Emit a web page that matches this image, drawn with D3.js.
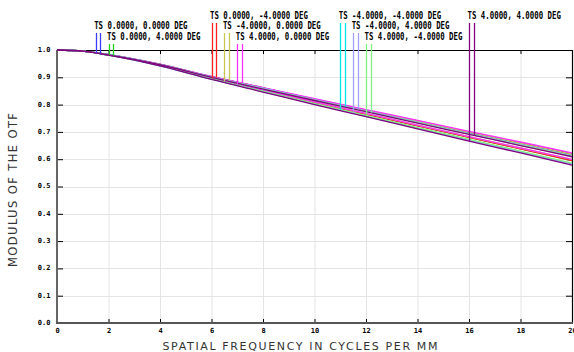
<!DOCTYPE html>
<html><head><meta charset="utf-8">
<script src="https://cdn.jsdelivr.net/npm/d3@7"></script>
<style>
html,body{margin:0;padding:0;background:#fff;}
svg{display:block;}
</style></head>
<body>
<svg id="chart" width="574" height="352"></svg>
<script>
// ---- data ----
const freqs = [0, 1, 2, 4, 6, 8, 10, 12, 14, 16, 18, 20];
const f1T = [1, .996, .983, .947, .902, .861, .820, .780, .740, .699, .660, .620];
const f1S = [1, .996, .983, .947, .902, .861, .820, .780, .740, .699, .660, .620];
const f2T = [1, .996, .982, .944, .896, .852, .808, .765, .722, .680, .638, .595];
const f2S = [1, .996, .983, .947, .901, .860, .818, .778, .737, .696, .657, .616];
const f3T = [1, .996, .982, .944, .896, .852, .808, .765, .722, .680, .638, .595];
const f3S = [1, .996, .983, .947, .902, .861, .819, .779, .738, .698, .658, .618];
const f4T = [1, .996, .982, .944, .897, .853, .810, .768, .725, .683, .641, .599];
const f4S = [1, .996, .983, .947, .902, .861, .820, .779, .739, .699, .659, .619];
const f5T = [1, .996, .982, .944, .897, .853, .810, .768, .725, .683, .641, .599];
const f5S = [1, .996, .983, .948, .903, .862, .822, .782, .742, .702, .663, .623];
const f6T = [1, .996, .981, .942, .893, .848, .803, .758, .714, .670, .627, .583];
const f6S = [1, .996, .983, .946, .901, .859, .817, .776, .735, .694, .654, .613];
const f7T = [1, .996, .981, .942, .893, .848, .803, .758, .714, .670, .627, .583];
const f7S = [1, .996, .983, .946, .901, .859, .817, .776, .735, .694, .654, .613];
const f8T = [1, .996, .981, .943, .894, .849, .804, .760, .716, .673, .630, .586];
const f8S = [1, .996, .982, .946, .900, .858, .816, .775, .734, .692, .652, .611];
const f9T = [1, .996, .981, .942, .892, .846, .800, .756, .711, .666, .623, .578];
const f9S = [1, .996, .982, .946, .900, .857, .815, .774, .732, .691, .650, .609];

const fieldLabels = [
  "TS 0.0000, 0.0000 DEG", "TS 0.0000, 4.0000 DEG", "TS 0.0000, -4.0000 DEG",
  "TS -4.0000, 0.0000 DEG", "TS 4.0000, 0.0000 DEG", "TS -4.0000, -4.0000 DEG",
  "TS -4.0000, 4.0000 DEG", "TS 4.0000, -4.0000 DEG", "TS 4.0000, 4.0000 DEG"
];
const fieldColors = ["#3c3cff", "#1ed21e", "#ff2020", "#c8c850", "#ff30ff",
                     "#00e6e6", "#a0a0ff", "#82f082", "#800080"];
const legendFreqs = [1.5, 2.0, 6.0, 6.5, 7.0, 11.0, 11.5, 12.0, 16.0];
const tangential = [f1T, f2T, f3T, f4T, f5T, f6T, f7T, f8T, f9T];
const sagittal = [f1S, f2S, f3S, f4S, f5S, f6S, f7S, f8S, f9S];

const xTicks = [0, 2, 4, 6, 8, 10, 12, 14, 16, 18, 20];
const yTicks = [0, 0.1, 0.2, 0.3, 0.4, 0.5, 0.6, 0.7, 0.8, 0.9, 1.0];
const xTitle = "SPATIAL FREQUENCY IN CYCLES PER MM";
const yTitle = "MODULUS OF THE OTF";

// ---- layout ----
const L = 57, R = 572, T = 50, B = 323;
const svg = d3.select("#chart");
const x = d3.scaleLinear().domain([0, 20]).range([L, R]);
const y = d3.scaleLinear().domain([0, 1]).range([B, T]);

// grid
const grid = svg.append("g");
grid.selectAll("line.v").data(xTicks.slice(1, -1)).join("line")
  .attr("x1", d => x(d) + 0.5).attr("x2", d => x(d) + 0.5)
  .attr("y1", T).attr("y2", B).attr("stroke", "#e4e4e4").attr("stroke-width", 1);
grid.selectAll("line.h").data(yTicks.slice(1, -1)).join("line")
  .attr("y1", d => Math.round(y(d)) + 0.5).attr("y2", d => Math.round(y(d)) + 0.5)
  .attr("x1", L).attr("x2", R).attr("stroke", "#e4e4e4").attr("stroke-width", 1);

// frame top/right
svg.append("line").attr("x1", L).attr("x2", R + 1).attr("y1", T + 0.5).attr("y2", T + 0.5)
  .attr("stroke", "#000").attr("stroke-width", 1.2);
svg.append("line").attr("x1", R + 0.5).attr("x2", R + 0.5).attr("y1", T).attr("y2", B)
  .attr("stroke", "#000").attr("stroke-width", 1.2);

// ticks on top / right (inward)
svg.append("g").attr("transform", `translate(0,${T})`)
  .call(d3.axisTop(x).tickValues(xTicks).tickSize(-4).tickFormat(""))
  .call(g => { g.select(".domain").remove(); g.selectAll("line").attr("stroke", "#000"); });
svg.append("g").attr("transform", `translate(${R},0)`)
  .call(d3.axisRight(y).tickValues(yTicks).tickSize(-6).tickFormat(""))
  .call(g => { g.select(".domain").remove(); g.selectAll("line").attr("stroke", "#000"); });

// left axis
svg.append("g").attr("transform", `translate(${L},0)`)
  .call(d3.axisLeft(y).tickValues(yTicks).tickSize(-6).tickPadding(6.5).tickFormat(d3.format(".1f")))
  .call(g => {
    g.select(".domain").remove();
    g.selectAll("line").attr("stroke", "#000");
    g.selectAll("text").attr("font-family", "DejaVu Sans Mono").attr("font-weight", "bold")
      .attr("font-size", 7).attr("fill", "#000").attr("dy", "0.2em");
  });
// bottom axis
svg.append("g").attr("transform", `translate(0,${B})`)
  .call(d3.axisBottom(x).tickValues(xTicks).tickSize(-4).tickPadding(5.5).tickFormat(d3.format("d")))
  .call(g => {
    g.select(".domain").remove();
    g.selectAll("line").attr("stroke", "#000");
    g.selectAll("text").attr("font-family", "DejaVu Sans Mono").attr("font-weight", "bold")
      .attr("font-size", 7).attr("fill", "#000");
  });
svg.append("line").attr("x1", L).attr("x2", L).attr("y1", T).attr("y2", B + 1)
  .attr("stroke", "#666").attr("stroke-width", 2);
svg.append("line").attr("x1", L - 1).attr("x2", R + 1).attr("y1", B).attr("y2", B)
  .attr("stroke", "#555").attr("stroke-width", 2);

// curves
const line = d3.line().x((d, i) => x(freqs[i])).y(d => y(d)).curve(d3.curveMonotoneX);
const curves = svg.append("g").attr("fill", "none").attr("stroke-width", 1.3);
fieldColors.forEach((c, i) => {
  curves.append("path").attr("d", line(tangential[i])).attr("stroke", c);
  curves.append("path").attr("d", line(sagittal[i])).attr("stroke", c);
});

// legend
const rowBase = [19, 29, 40];
const leg = svg.append("g");
fieldLabels.forEach((lab, i) => {
  const row = (i + 1) % 3;
  const f = legendFreqs[i];
  const fx = [f, f + 0.18];
  const yT = d3.scaleLinear().domain(freqs).range(tangential[i]);
  const yS = d3.scaleLinear().domain(freqs).range(sagittal[i]);
  const ends = [yT(fx[0]), yS(fx[1])];
  fx.forEach((ff, k) => {
    leg.append("line")
      .attr("x1", Math.round(x(ff)) + 0.5).attr("x2", Math.round(x(ff)) + 0.5)
      .attr("y1", rowBase[row] + 4).attr("y2", y(ends[k]))
      .attr("stroke", fieldColors[i]).attr("stroke-width", 1.3);
  });
  leg.append("text").attr("x", x(f) - 1.5).attr("y", rowBase[row])
    .attr("font-family", "DejaVu Sans Mono").attr("font-weight", "bold")
    .attr("font-size", 10).attr("fill", "#000")
    .attr("textLength", lab.length * 4.45).attr("lengthAdjust", "spacingAndGlyphs")
    .text(lab);
});

// axis titles
svg.append("text").attr("x", 300).attr("y", 350).attr("text-anchor", "middle")
  .attr("font-family", "DejaVu Sans").attr("font-size", 11).attr("fill", "#333")
  .attr("textLength", 275).attr("lengthAdjust", "spacing").text(xTitle);
svg.append("text").attr("transform", "translate(17,190) rotate(-90)").attr("text-anchor", "middle")
  .attr("font-family", "DejaVu Sans").attr("font-size", 11.5).attr("fill", "#333")
  .attr("textLength", 154).attr("lengthAdjust", "spacing").text(yTitle);
</script>
</body></html>
